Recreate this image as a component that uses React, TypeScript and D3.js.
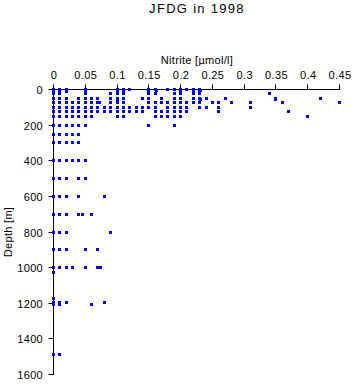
import React from "react";
import * as d3 from "d3";

const title = "JFDG in 1998";
const xLabel = "Nitrite [\u00b5mol/l]";
const yLabel = "Depth [m]";
const xTicks = [0, 0.05, 0.1, 0.15, 0.2, 0.25, 0.3, 0.35, 0.4, 0.45];
const yTicks = [0, 200, 400, 600, 800, 1000, 1200, 1400, 1600];

const depthLevels = [0, 5, 10, 25, 50, 55, 75, 100, 125, 150, 200, 250, 300, 400, 500, 600, 700, 800, 900, 1000, 1025, 1175, 1195, 1205, 1490];
const nitriteByDepth = [
  [0, 0.01, 0.02, 0.05, 0.1, 0.11, 0.12, 0.15, 0.16, 0.18, 0.19, 0.2, 0.21, 0.22, 0.23],
  [0, 0.01, 0.05, 0.101, 0.11, 0.15, 0.162, 0.2, 0.22, 0.232],
  [0, 0.01, 0.02, 0.05, 0.11, 0.15, 0.2, 0.22, 0.23],
  [0, 0.01, 0.05, 0.09, 0.1, 0.11, 0.15, 0.16, 0.19, 0.2, 0.22, 0.23, 0.34],
  [0, 0.01, 0.02, 0.04, 0.05, 0.06, 0.07, 0.09, 0.1, 0.11, 0.14, 0.15, 0.17, 0.19, 0.2, 0.22, 0.23, 0.24, 0.27, 0.35, 0.42],
  [0.1, 0.232, 0.35],
  [0, 0.01, 0.02, 0.03, 0.04, 0.05, 0.06, 0.07, 0.072, 0.09, 0.1, 0.11, 0.15, 0.16, 0.17, 0.18, 0.19, 0.2, 0.21, 0.22, 0.23, 0.25, 0.26, 0.28, 0.31, 0.36, 0.45],
  [0, 0.01, 0.02, 0.03, 0.04, 0.05, 0.06, 0.07, 0.08, 0.09, 0.1, 0.11, 0.12, 0.13, 0.14, 0.15, 0.16, 0.18, 0.19, 0.2, 0.21, 0.23, 0.24, 0.26, 0.31],
  [0, 0.01, 0.02, 0.03, 0.04, 0.05, 0.06, 0.07, 0.08, 0.09, 0.1, 0.11, 0.12, 0.13, 0.14, 0.16, 0.17, 0.18, 0.19, 0.2, 0.21, 0.26, 0.37],
  [0, 0.01, 0.02, 0.03, 0.04, 0.05, 0.06, 0.1, 0.11, 0.16, 0.17, 0.18, 0.19, 0.2, 0.4],
  [0, 0.01, 0.02, 0.03, 0.04, 0.05, 0.15, 0.19],
  [0, 0.01, 0.02, 0.03, 0.04],
  [0, 0.01, 0.02, 0.03, 0.04],
  [0, 0.01, 0.02, 0.03, 0.04, 0.05],
  [0, 0.01, 0.02, 0.04, 0.05],
  [0, 0.01, 0.02, 0.04, 0.08],
  [0, 0.01, 0.02, 0.04, 0.045, 0.06],
  [0, 0.01, 0.02, 0.09],
  [0, 0.01, 0.02, 0.05, 0.07],
  [0, 0.01, 0.02, 0.03, 0.05, 0.07, 0.074],
  [0],
  [0],
  [0, 0.01, 0.02, 0.08],
  [0, 0.01, 0.06],
  [0, 0.01],
];

const W = 353;
const H = 384;
const font = "'Liberation Sans', Arial, sans-serif";

export default function App() {
  const x = d3.scaleLinear().domain([0, 0.45]).range([54, 340]);
  const y = d3.scaleLinear().domain([0, 1600]).range([90, 375]);
  const points: { v: number; d: number }[] = [];
  depthLevels.forEach((d, i) => nitriteByDepth[i].forEach((v) => points.push({ v, d })));
  const axY = 89.5;
  const axX = 53.5;
  return (
    <svg width={W} height={H} style={{ position: "absolute", left: 0, top: 0, background: "#fff" }}>
      <rect width={W} height={H} fill="#fff" />
      <text x={197} y={13} textAnchor="middle" fontFamily={font} fontSize={13} letterSpacing={1.3}>{title}</text>
      <text x={197} y={64} textAnchor="middle" fontFamily={font} fontSize={11} letterSpacing={0.3}>{xLabel}</text>
      <line x1={axX} x2={x(0.45) + 0.5} y1={axY} y2={axY} stroke="#000" />
      {xTicks.map((t) => (
        <g key={"xt" + t}>
          <line x1={Math.round(x(t)) - 0.5} x2={Math.round(x(t)) - 0.5} y1={axY} y2={axY - 5} stroke="#000" />
          <text x={x(t)} y={78.5} textAnchor="middle" fontFamily={font} fontSize={11} letterSpacing={0.4}>{d3.format("")(t)}</text>
        </g>
      ))}
      <line x1={axX} x2={axX} y1={axY} y2={y(1600)} stroke="#000" />
      {yTicks.map((t) => (
        <g key={"yt" + t}>
          <line x1={axX} x2={axX - 5} y1={Math.round(y(t)) - 0.5} y2={Math.round(y(t)) - 0.5} stroke="#000" />
          <text x={43} y={y(t) + 4} textAnchor="end" fontFamily={font} fontSize={11} letterSpacing={0.3}>{t}</text>
        </g>
      ))}
      <text transform={`translate(12,232) rotate(-90)`} textAnchor="middle" fontFamily={font} fontSize={11} letterSpacing={0.3}>{yLabel}</text>
      {points.map((p, i) => (
        <rect key={i} x={Math.round(x(p.v)) - 2} y={Math.round(y(p.d)) - 2} width={3} height={3} fill="#0000ff" />
      ))}
    </svg>
  );
}
